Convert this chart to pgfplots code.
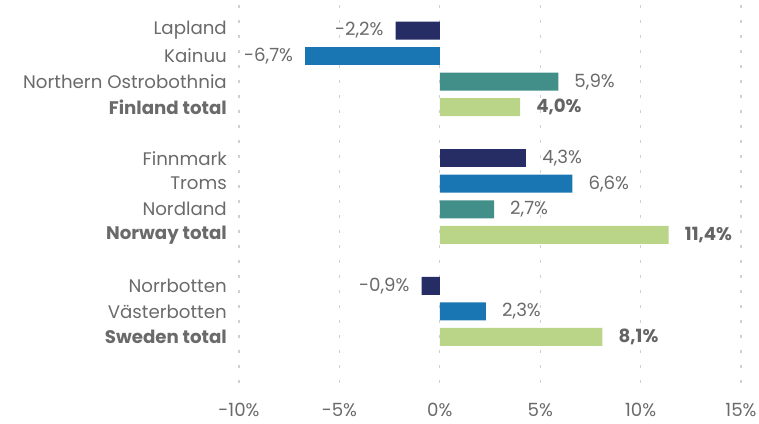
\documentclass[border=0pt]{standalone}
\usepackage{pgfplots}
\pgfplotsset{compat=1.18}
\usepackage{pgfplotstable}
\usepackage{fontspec}
\setmainfont{Poppins}
\definecolor{cnavy}{HTML}{252D64}
\definecolor{cblue}{HTML}{1A76B3}
\definecolor{cteal}{HTML}{418F88}
\definecolor{cgreen}{HTML}{BAD488}
\definecolor{ctext}{HTML}{6A6A6A}
\definecolor{cbold}{HTML}{646464}
\definecolor{cgrid}{HTML}{D0D0D0}

\pgfplotstableread{
y x lab
0 -2.2 -2,2\%
10 -0.9 -0,9\%
}\navyneg
\pgfplotstableread{
y x lab
5 4.3 4,3\%
}\navypos
\pgfplotstableread{
y x lab
1 -6.7 -6,7\%
}\blueneg
\pgfplotstableread{
y x lab
6 6.6 6,6\%
11 2.3 2,3\%
}\bluepos
\pgfplotstableread{
y x lab
2 5.9 5,9\%
7 2.7 2,7\%
}\tealdata
\pgfplotstableread{
y x lab
3 4.0 4,0\%
8 11.4 11,4\%
12 8.1 8,1\%
}\greendata

\begin{document}
\begin{tikzpicture}
\path[use as bounding box] (-239pt,-35pt) rectangle (520pt,388pt);
\begin{axis}[
  at={(0pt,0pt)}, anchor=south west,
  scale only axis, width=502pt, height=383pt,
  xmin=-10, xmax=15, ymin=-1, ymax=14, y dir=reverse,
  clip=false,
  xbar, bar width=18pt,
  axis line style={draw=none},
  major tick length=0pt,
  xtick={-10,-5,0,5,10,15},
  xticklabels={-10\%,-5\%,0\%,5\%,10\%,15\%},
  ytick={0,1,2,3,5,6,7,8,10,11,12},
  yticklabels={Lapland,Kainuu,Northern Ostrobothnia,\textbf{Finland total},Finnmark,Troms,Nordland,\textbf{Norway total},Norrbotten,Västerbotten,\textbf{Sweden total}},
  ticklabel style={font=\fontsize{18.2}{21}\selectfont, text=ctext},
  yticklabel style={inner xsep=0pt, xshift=-12pt},
  xticklabel style={yshift=-12pt},
  xmajorgrids,
  grid style={cgrid, line width=1.1pt, dash pattern=on 3pt off 12pt},
  nodes near coords,
  point meta=explicit symbolic,
  every node near coord/.append style={font=\fontsize{18.2}{21}\selectfont, text=ctext, inner xsep=0pt},
  pos/.style={every node near coord/.append style={anchor=west, xshift=16pt}},
  neg/.style={every node near coord/.append style={anchor=east, xshift=-12pt}},
]
\addplot[fill=cnavy, draw=none, bar shift=0pt, neg] table[x=x,y=y,meta=lab]{\navyneg};
\addplot[fill=cnavy, draw=none, bar shift=0pt, pos] table[x=x,y=y,meta=lab]{\navypos};
\addplot[fill=cblue, draw=none, bar shift=0pt, neg] table[x=x,y=y,meta=lab]{\blueneg};
\addplot[fill=cblue, draw=none, bar shift=0pt, pos] table[x=x,y=y,meta=lab]{\bluepos};
\addplot[fill=cteal, draw=none, bar shift=0pt, pos] table[x=x,y=y,meta=lab]{\tealdata};
\addplot[fill=cgreen, draw=none, bar shift=0pt, pos, every node near coord/.append style={font=\fontsize{18.2}{21}\selectfont\bfseries, text=cbold}] table[x=x,y=y,meta=lab]{\greendata};
\end{axis}
\end{tikzpicture}
\end{document}
